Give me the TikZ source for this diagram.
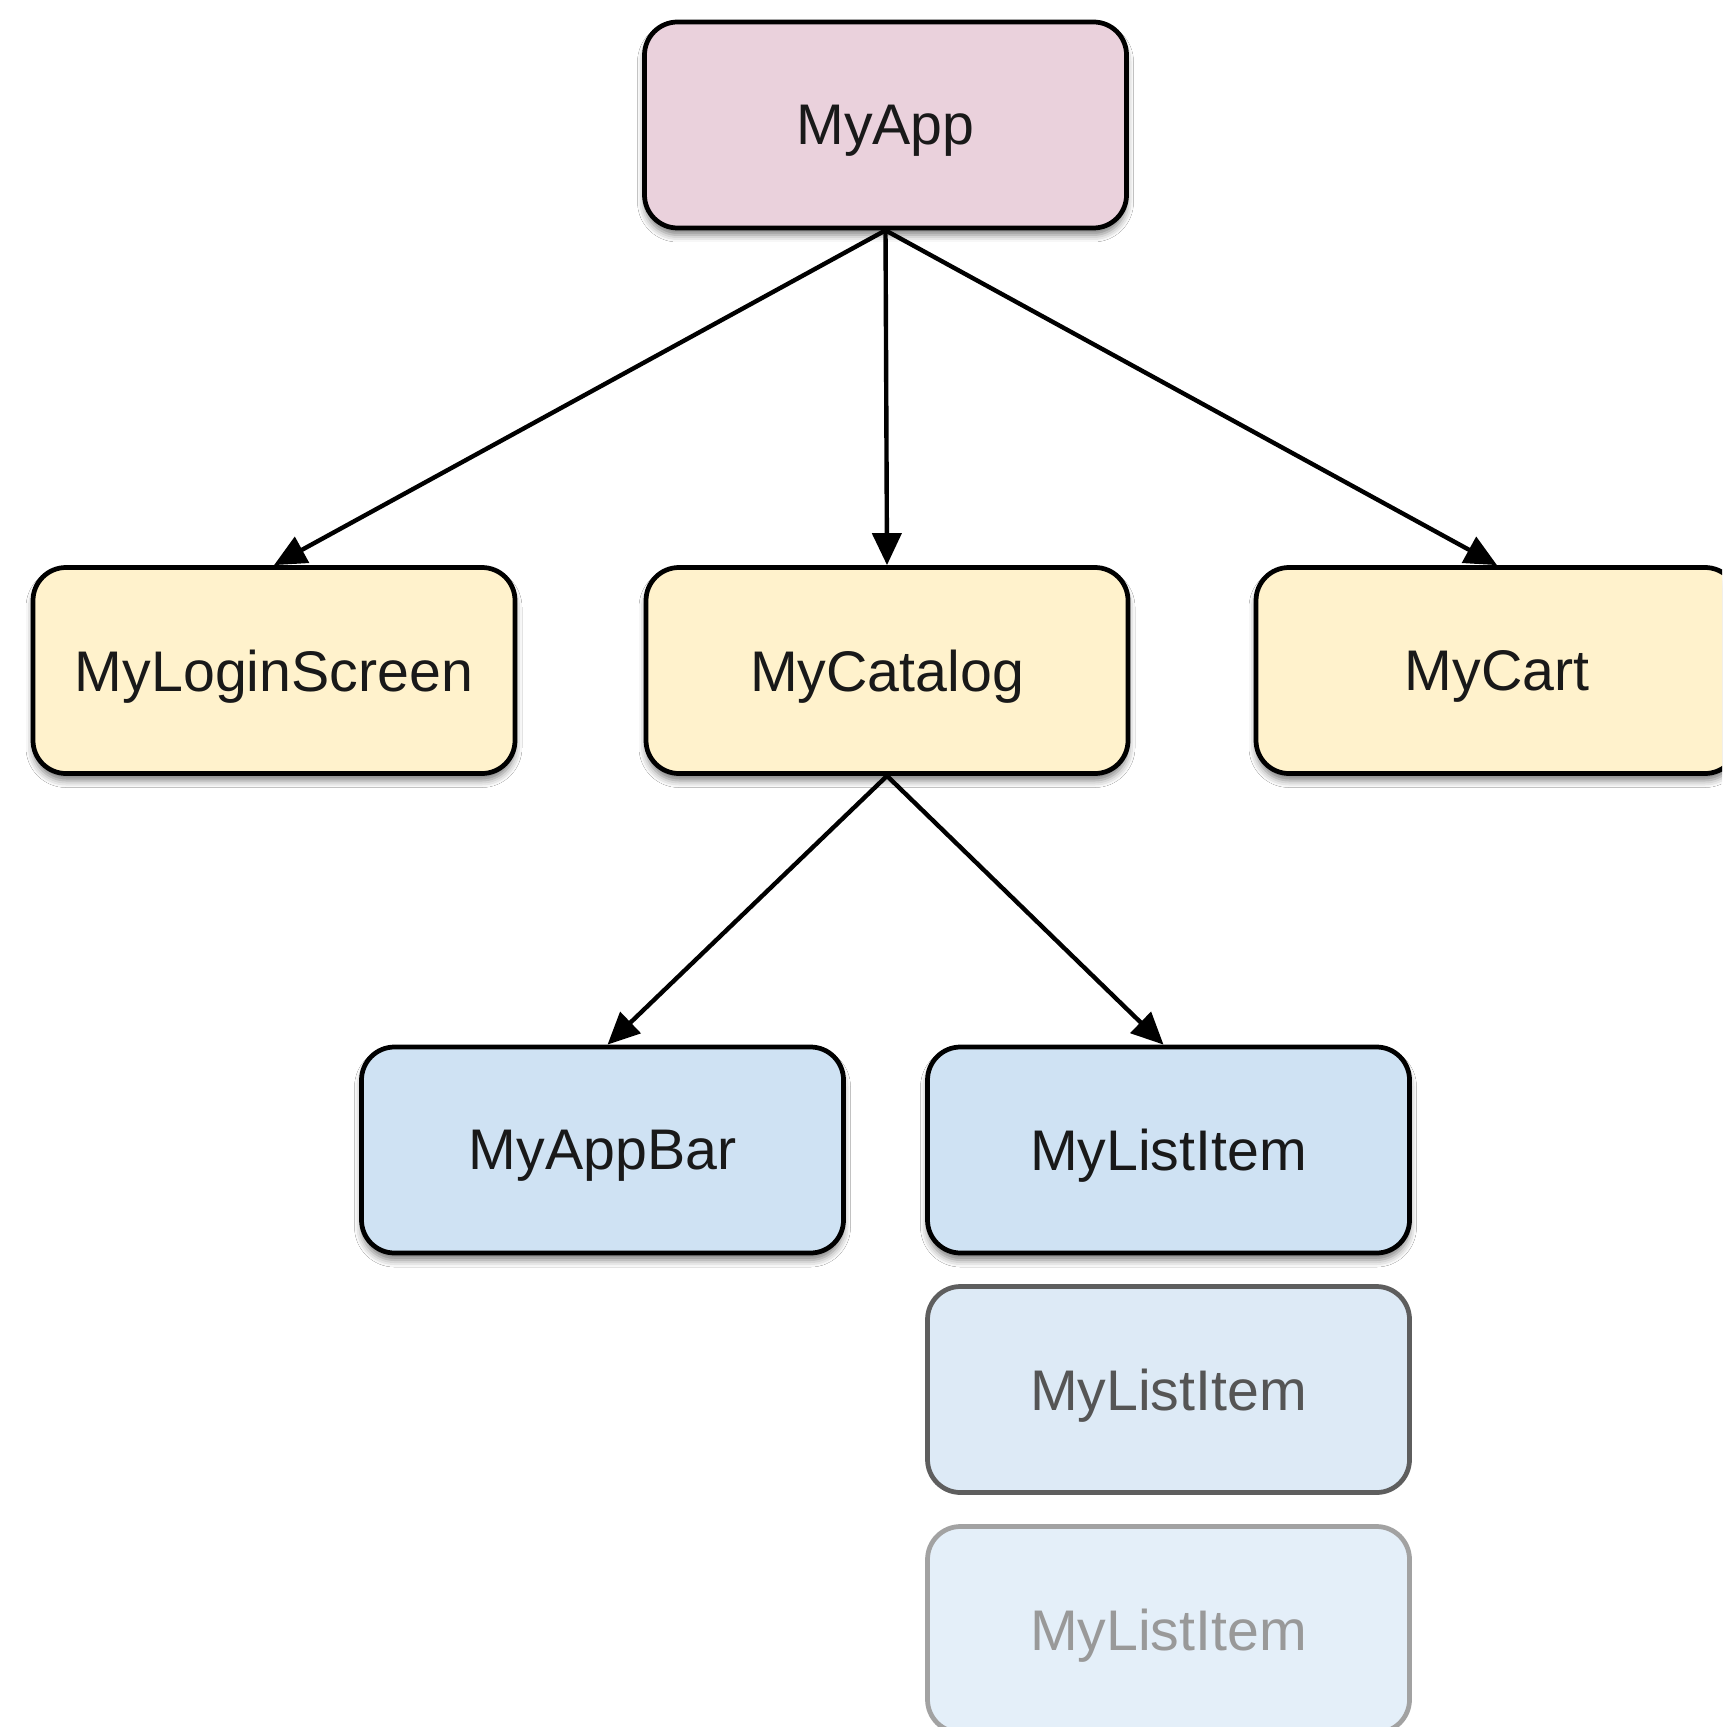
\documentclass[tikz,border=0pt]{standalone}
\usepackage{fontspec}
\setmainfont{Liberation Sans}
\usetikzlibrary{arrows.meta,shadows.blur}

\definecolor{appfill}{HTML}{EAD1DC}
\definecolor{screenfill}{HTML}{FFF2CC}
\definecolor{widgetfill}{HTML}{CFE2F3}
\definecolor{itemfillB}{HTML}{DDEAF6}
\definecolor{itemfillC}{HTML}{E4EFF9}
\definecolor{itemdrawB}{HTML}{5E5E5E}
\definecolor{itemdrawC}{HTML}{A2A2A2}
\definecolor{itemtextB}{HTML}{555555}
\definecolor{itemtextC}{HTML}{999999}

\tikzset{
  box/.style={draw=black, line width=1.35pt, rounded corners=0.33cm,
    minimum height=2.06cm, minimum width=4.82cm, inner sep=0pt,
    text depth=0pt, font=\fontsize{16.3}{19}\selectfont, text=black!90},
  shadowed/.style={blur shadow={shadow xshift=0pt, shadow yshift=-0.07cm,
    shadow blur radius=0.07cm, shadow opacity=50}},
  edge/.style={line width=1.25pt,
    -{Triangle[length=0.32cm,width=0.29cm]}}
}

\begin{document}
\begin{tikzpicture}
  \clip (0,0) rectangle (17.22,-17.27);
  \fill[white] (0,0) rectangle (17.22,-17.27);

  % top level
  \node[box, shadowed, fill=appfill] (app) at (8.855,-1.25) {MyApp};

  % screens
  \node[box, shadowed, fill=screenfill] (login) at (2.74,-6.705) {MyLoginScreen};
  \node[box, shadowed, fill=screenfill] (catalog) at (8.87,-6.705) {MyCatalog};
  \node[box, shadowed, fill=screenfill] (cart) at (14.97,-6.705) {MyCart};

  % catalog children
  \node[box, shadowed, fill=widgetfill] (appbar) at (6.025,-11.5) {MyAppBar};
  \node[box, shadowed, fill=widgetfill] (item1) at (11.685,-11.5) {MyListItem};
  \node[box, fill=itemfillB, draw=itemdrawB, text=itemtextB] (item2) at (11.685,-13.895) {MyListItem};
  \node[box, fill=itemfillC, draw=itemdrawC, text=itemtextC] (item3) at (11.685,-16.295) {MyListItem};

  % connectors
  \draw[edge] (app.south) -- (login.north);
  \draw[edge] (app.south) -- (catalog.north);
  \draw[edge] (app.south) -- (cart.north);
  \draw[edge] (catalog.south) -- ([xshift=0.05cm]appbar.north);
  \draw[edge] (catalog.south) -- ([xshift=-0.05cm]item1.north);
\end{tikzpicture}
\end{document}
